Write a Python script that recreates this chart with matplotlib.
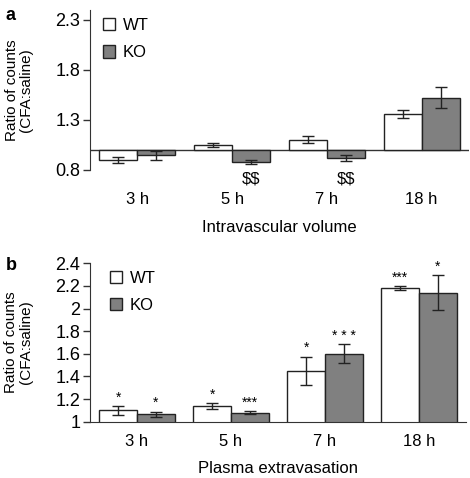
import matplotlib
matplotlib.use("Agg")
import matplotlib.pyplot as plt
from matplotlib.patches import Patch
import numpy as np

plt.rcParams["font.family"] = ["Liberation Sans", "DejaVu Sans"]
plt.rcParams["font.size"] = 12

times = ["3 h", "5 h", "7 h", "18 h"]

# panel a: intravascular volume
vol_wt = [0.90, 1.05, 1.105, 1.36]
vol_wt_err = [0.03, 0.023, 0.033, 0.043]
vol_ko = [0.95, 0.885, 0.925, 1.525]
vol_ko_err = [0.045, 0.02, 0.03, 0.108]
vol_ko_marks = ["", "$$", "$$", ""]

# panel b: plasma extravasation
ext_wt = [1.10, 1.14, 1.45, 2.18]
ext_wt_err = [0.04, 0.028, 0.125, 0.02]
ext_ko = [1.065, 1.08, 1.60, 2.14]
ext_ko_err = [0.025, 0.015, 0.085, 0.155]
ext_wt_stars = ["*", "*", "*", "***"]
ext_ko_stars = ["*", "***", "* * *", "*"]

WHITE = "white"
GREY = "#808080"
EDGE = "#222222"
W = 0.4

fig = plt.figure(figsize=(4.7, 4.78), dpi=100)
ax_a = fig.add_axes([90 / 470, 308 / 478, 379 / 470, 160 / 478])
ax_b = fig.add_axes([90 / 470, 56.3 / 478, 376 / 470, 158.4 / 478])

x = np.arange(len(times))
ebkw = dict(ecolor=EDGE, capsize=4, elinewidth=1.0, capthick=1.0)

# --- panel a
ax_a.bar(x - W / 2, np.array(vol_wt) - 1, W, bottom=1, color=WHITE, edgecolor=EDGE, lw=1.0, zorder=2)
ax_a.bar(x + W / 2, np.array(vol_ko) - 1, W, bottom=1, color=GREY, edgecolor=EDGE, lw=1.0, zorder=2)
ax_a.errorbar(x - W / 2, vol_wt, yerr=vol_wt_err, fmt="none", zorder=3, **ebkw)
ax_a.errorbar(x + W / 2, vol_ko, yerr=vol_ko_err, fmt="none", zorder=3, **ebkw)
ax_a.axhline(1.0, color="#333333", lw=1.0, zorder=1)
for i, m in enumerate(vol_ko_marks):
    if m:
        ax_a.text(x[i] + W / 2, 0.71, m, ha="center", va="center", fontsize=12,
                  clip_on=False, parse_math=False)
ax_a.set_xlim(-0.5, 3.5)
ax_a.set_ylim(0.8, 2.4)
ax_a.set_yticks([0.8, 1.3, 1.8, 2.3])
ax_a.set_xticks(x)
ax_a.set_xticklabels(times)
ax_a.tick_params(axis="x", length=0, pad=16)
ax_a.set_xlabel("Intravascular volume")
ax_a.xaxis.set_label_coords(0.5, -0.31)

# --- panel b
ax_b.bar(x - W / 2, ext_wt, W, color=WHITE, edgecolor=EDGE, lw=1.0, zorder=2)
ax_b.bar(x + W / 2, ext_ko, W, color=GREY, edgecolor=EDGE, lw=1.0, zorder=2)
ax_b.errorbar(x - W / 2, ext_wt, yerr=ext_wt_err, fmt="none", zorder=3, **ebkw)
ax_b.errorbar(x + W / 2, ext_ko, yerr=ext_ko_err, fmt="none", zorder=3, **ebkw)
for i in range(len(times)):
    ax_b.annotate(ext_wt_stars[i], (x[i] - W / 2, ext_wt[i] + ext_wt_err[i]),
                  xytext=(0, 1), textcoords="offset points", ha="center", va="bottom", fontsize=10)
    ax_b.annotate(ext_ko_stars[i], (x[i] + W / 2, ext_ko[i] + ext_ko_err[i]),
                  xytext=(0, 1), textcoords="offset points", ha="center", va="bottom", fontsize=10)
ax_b.set_xlim(-0.5, 3.5)
ax_b.set_ylim(1.0, 2.4)
ax_b.set_yticks([1, 1.2, 1.4, 1.6, 1.8, 2, 2.2, 2.4])
ax_b.set_yticklabels(["1", "1.2", "1.4", "1.6", "1.8", "2", "2.2", "2.4"])
ax_b.set_xticks(x)
ax_b.set_xticklabels(times)
ax_b.tick_params(axis="x", length=0, pad=9)
ax_b.set_xlabel("Plasma extravasation")
ax_b.xaxis.set_label_coords(0.5, -0.25)

for ax in (ax_a, ax_b):
    ax.spines["top"].set_visible(False)
    ax.spines["right"].set_visible(False)
    ax.spines["left"].set_color("#333333")
    ax.spines["bottom"].set_color("#333333")
    ax.tick_params(axis="y", length=5, width=1.0, color="#333333", pad=2, labelsize=13)
    ax.tick_params(axis="x", labelsize=12)
    ax.set_ylabel("Ratio of counts\n(CFA:saline)", linespacing=1.05, fontsize=11)
ax_a.yaxis.set_label_coords(-0.15, 0.5)
ax_b.yaxis.set_label_coords(-0.152, 0.5)
ax_a.spines["bottom"].set_visible(False)

handles = [Patch(facecolor=WHITE, edgecolor=EDGE, label="WT"),
           Patch(facecolor=GREY, edgecolor=EDGE, label="KO")]
ax_a.legend(handles=handles, loc="upper left", bbox_to_anchor=(-0.006, 1.045), frameon=False,
            handlelength=0.75, handleheight=0.75, handletextpad=0.45, labelspacing=0.75, fontsize=12)
ax_b.legend(handles=handles, loc="upper left", bbox_to_anchor=(0.012, 1.045), frameon=False,
            handlelength=0.75, handleheight=0.75, handletextpad=0.45, labelspacing=0.7, fontsize=12)

fig.text(6 / 470, 1 - 15 / 478, "a", fontsize=13, fontweight="bold", va="center")
fig.text(6 / 470, 1 - 265 / 478, "b", fontsize=13, fontweight="bold", va="center")

fig.savefig("out.png", dpi=100)
